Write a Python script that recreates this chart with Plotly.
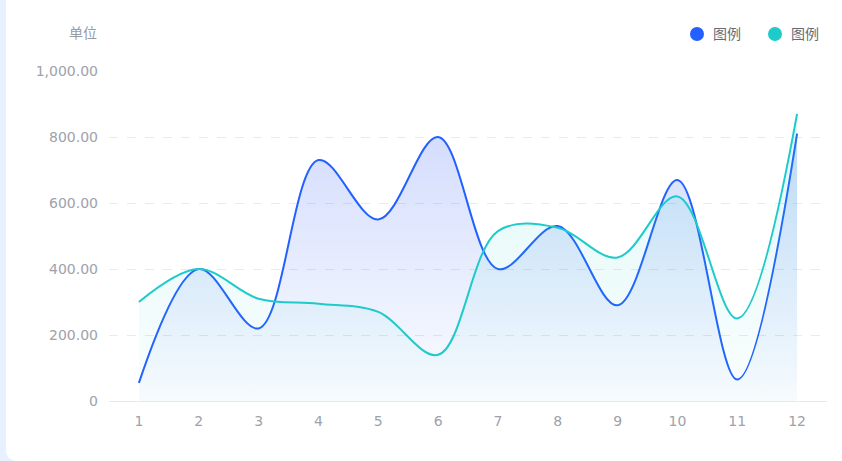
import plotly.graph_objects as go

months = [str(i) for i in range(1, 13)]
series_a = [55, 400, 220, 730, 550, 800, 400, 530, 290, 670, 65, 810]
series_b = [300, 400, 310, 295, 270, 140, 515, 525, 435, 620, 250, 870]
legend_names = ["图例", "图例"]
y_ticks = [0, 200, 400, 600, 800, 1000]
y_ticktext = ["0", "200.00", "400.00", "600.00", "800.00", "1,000.00"]

blue = "#2260FF"
cyan = "#1FCACB"
font_family = "DejaVu Sans, Noto Sans CJK SC, sans-serif"

# plot area in pixels
L, R, T, B = 109, 827, 71, 401
PW, PH = R - L, B - T


def px(x):
    return (x - L) / PW


def py(y):
    return (B - y) / PH


fig = go.Figure()

fig.add_trace(go.Scatter(
    x=months, y=series_a, mode="lines", showlegend=False,
    line=dict(color=blue, width=2, shape="spline", smoothing=1.0),
    fill="tozeroy",
    fillgradient=dict(type="vertical", start=0, stop=800,
                      colorscale=[[0, "rgba(60,110,245,0.02)"], [1, "rgba(60,100,245,0.22)"]]),
    hoverinfo="skip",
))
fig.add_trace(go.Scatter(
    x=months, y=series_b, mode="lines", showlegend=False,
    line=dict(color=cyan, width=2, shape="spline", smoothing=1.0),
    fill="tozeroy",
    fillgradient=dict(type="vertical", start=0, stop=870,
                      colorscale=[[0, "rgba(30,200,200,0.02)"], [1, "rgba(30,200,200,0.14)"]]),
    hoverinfo="skip",
))

# legend drawn by hand: round dot + label
shapes = []
annotations = []
for name, color, cx in zip(legend_names, [blue, cyan], [697, 775]):
    shapes.append(dict(type="circle", xref="paper", yref="paper",
                       xsizemode="pixel", ysizemode="pixel",
                       xanchor=px(cx), yanchor=py(34), x0=-7, x1=7, y0=-7, y1=7,
                       fillcolor=color, line=dict(width=0)))
    annotations.append(dict(text=name, xref="paper", yref="paper",
                            x=px(cx + 14), y=py(34), xanchor="left", yanchor="middle",
                            showarrow=False, font=dict(size=14, color="#666a72")))

annotations.append(dict(text="单位", xref="paper", yref="paper", x=px(99), y=py(33),
                        xanchor="right", yanchor="middle", showarrow=False,
                        font=dict(size=14, color="#979ba3")))

# light blue card edge on the left
shapes.append(dict(type="rect", xref="paper", yref="paper",
                   x0=px(0), x1=px(6), y0=py(449), y1=py(0),
                   fillcolor="#e8f1ff", line=dict(width=0), layer="below"))
shapes.append(dict(type="path", xref="paper", yref="paper",
                   path=f"M {px(0)},{py(449)} L {px(6)},{py(449)} Q {px(6)},{py(461)} {px(18)},{py(461)} "
                        f"L {px(0)},{py(461)} Z",
                   fillcolor="#e8f1ff", line=dict(width=0), layer="below"))

fig.update_layout(
    width=842, height=461,
    margin=dict(l=L, r=842 - R, t=T, b=461 - B),
    paper_bgcolor="white", plot_bgcolor="white",
    font=dict(family=font_family, size=14, color="#9ea2aa"),
    showlegend=False,
    xaxis=dict(showgrid=False, zeroline=False, showline=False,
               ticks="", ticklabelstandoff=10, tickfont=dict(size=14, color="#9ea2aa"),
               range=[-0.5, 11.5]),
    yaxis=dict(range=[0, 1000], tickvals=y_ticks, ticktext=y_ticktext,
               showgrid=True, gridcolor="#e9eaed", griddash="dash", gridwidth=1,
               zeroline=True, zerolinecolor="#e6e8eb", zerolinewidth=1,
               showline=False, ticks="", ticklabelstandoff=10,
               tickfont=dict(size=14, color="#9ea2aa")),
    annotations=annotations,
    shapes=shapes,
)

fig.write_html("out.html", config={"displayModeBar": False},
               post_script="document.body.style.margin='0';")
